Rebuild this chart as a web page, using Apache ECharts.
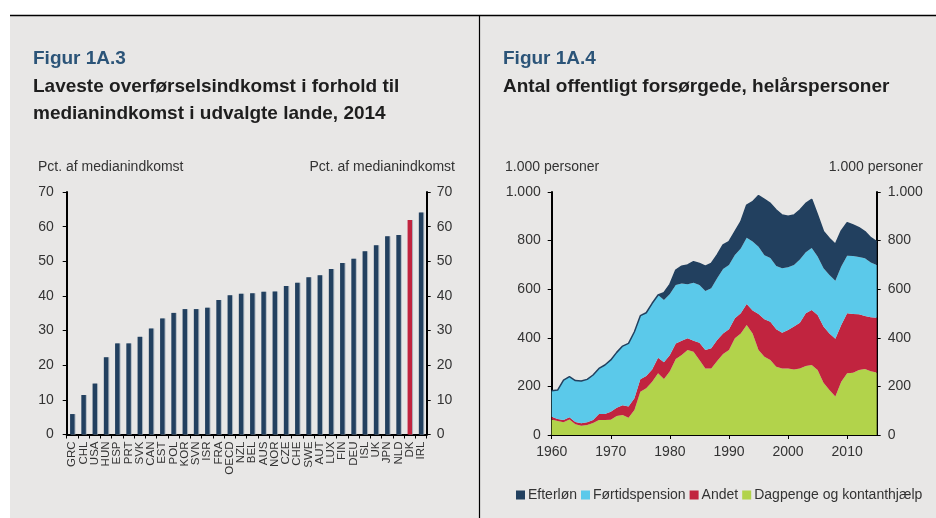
<!DOCTYPE html>
<html><head><meta charset="utf-8">
<script src="https://cdn.jsdelivr.net/npm/echarts@6/dist/echarts.min.js"></script>
<style>html,body{margin:0;padding:0;background:#fff}#c{width:936px;height:518px}</style>
</head><body><div id="c"></div>
<script>
// ---- Figur 1A.3 data ----
const countries = ['GRC','CHL','USA','HUN','ESP','PRT','SVK','CAN','EST','POL','KOR','SVN','ISR','FRA','OECD','NZL','BEL','AUS','NOR','CZE','CHE','SWE','AUT','LUX','FIN','DEU','ISL','UK','JPN','NLD','DK','IRL'];
const incomeShare = [5.9,11.4,14.7,22.3,26.3,26.3,28.2,30.6,33.5,35.1,36.2,36.2,36.6,38.8,40.2,40.6,40.8,41.2,41.3,42.9,43.8,45.4,46.0,47.8,49.5,50.7,52.9,54.6,57.2,57.6,61.9,64.1];
const highlightCountry = 'DK';
const pctTicks = [0,10,20,30,40,50,60,70];

// ---- Figur 1A.4 data (1.000 personer) ----
const years = ['1960','1961','1962','1963','1964','1965','1966','1967','1968','1969','1970','1971','1972','1973','1974','1975','1976','1977','1978','1979','1980','1981','1982','1983','1984','1985','1986','1987','1988','1989','1990','1991','1992','1993','1994','1995','1996','1997','1998','1999','2000','2001','2002','2003','2004','2005','2006','2007','2008','2009','2010','2011','2012','2013','2014','2015'];
const dagpenge = [64,58,52,64,44,38,41,49,62,62,63,78,82,71,103,178,192,219,254,230,262,313,329,350,343,309,274,274,305,333,350,398,418,453,418,350,322,309,281,274,274,270,274,284,288,267,215,185,158,219,254,256,267,272,262,257];
const andet = [11,8,10,9,9,10,11,13,24,24,33,34,40,46,48,51,51,51,64,69,67,64,59,48,45,71,76,83,86,85,85,82,83,86,94,148,154,157,154,147,158,176,188,217,226,227,231,233,238,234,247,242,230,218,223,226];
const foertid = [107,119,164,167,171,174,177,185,188,202,213,228,244,260,274,262,260,272,258,257,251,240,235,222,239,237,243,247,254,265,265,261,267,273,284,277,264,262,260,265,258,254,260,251,256,241,240,240,239,240,237,239,236,237,225,217];
const efterloen = [0,0,0,0,0,0,0,0,0,0,0,0,0,0,0,0,0,0,0,30,40,62,72,80,86,89,102,102,96,99,96,96,110,134,164,210,230,225,231,219,210,205,204,201,200,170,151,151,150,147,136,127,120,110,102,96];
const personTicks = [0,200,400,600,800,1000];

const FONT = "'Liberation Sans', Arial, Helvetica, sans-serif";
const NAVY = '#22405f', LBLUE = '#5bc9ea', RED = '#c1243f', GREEN = '#b2d34b';
const TXT = '#333333';

const chart = echarts.init(document.getElementById('c'), null, {renderer:'canvas'});

function txt(x, y, s, opt) {
  return Object.assign({type:'text', x:x, y:y, silent:true,
    style: Object.assign({text:s, fill:TXT, font:'14px ' + FONT, verticalAlign:'middle', align:'left'}, opt||{})});
}

const yAxisCommon = {
  type:'value', min:0,
  axisLine:{show:true, lineStyle:{color:'#000', width:2}},
  axisTick:{show:true, length:4, lineStyle:{color:'#000', width:1}},
  splitLine:{show:false},
  axisLabel:{color:TXT, fontSize:14, fontFamily:FONT}
};

const option = {
  animation:false,
  backgroundColor:'#ffffff',
  textStyle:{fontFamily:FONT},
  graphic:[
    {type:'rect', shape:{x:10, y:16, width:926, height:502}, style:{fill:'#e8e7e6'}, silent:true, z:-10},
    {type:'line', shape:{x1:10, y1:15.5, x2:936, y2:15.5}, style:{stroke:'#000', lineWidth:1.5}, silent:true, z:-5},
    {type:'line', shape:{x1:479.5, y1:15, x2:479.5, y2:518}, style:{stroke:'#000', lineWidth:1.2}, silent:true, z:-5},
    txt(33, 59, 'Figur 1A.3', {font:'bold 19px ' + FONT, fill:'#2b5478'}),
    txt(33, 87, 'Laveste overførselsindkomst i forhold til', {font:'bold 19px ' + FONT, fill:'#1e1e1e'}),
    txt(33, 114, 'medianindkomst i udvalgte lande, 2014', {font:'bold 19px ' + FONT, fill:'#1e1e1e'}),
    txt(503, 59, 'Figur 1A.4', {font:'bold 19px ' + FONT, fill:'#2b5478'}),
    txt(503, 87, 'Antal offentligt forsørgede, helårspersoner', {font:'bold 19px ' + FONT, fill:'#1e1e1e'}),
    txt(38, 167, 'Pct. af medianindkomst'),
    txt(455, 167, 'Pct. af medianindkomst', {align:'right'}),
    txt(505, 167, '1.000 personer'),
    txt(923, 167, '1.000 personer', {align:'right'})
  ],
  grid:[
    {left:66.7, top:192, width:360, height:242.5, containLabel:false},
    {left:551.7, top:192, width:325, height:243, containLabel:false}
  ],
  legend:{
    data:['Efterløn','Førtidspension','Andet','Dagpenge og kontanthjælp'],
    left:511, top:483, itemWidth:9, itemHeight:9, itemGap:4, icon:'rect',
    textStyle:{color:TXT, fontSize:14, fontFamily:FONT, padding:[0,0,0,-2]},
    selectedMode:false
  },
  xAxis:[
    {type:'category', gridIndex:0, data:countries,
      axisLine:{lineStyle:{color:'#000', width:2}},
      axisTick:{show:true, length:4, lineStyle:{color:'#000'}},
      axisLabel:{rotate:90, interval:0, color:TXT, fontSize:11.5, fontFamily:FONT, margin:7}},
    {type:'category', gridIndex:1, data:years, boundaryGap:false,
      axisLine:{lineStyle:{color:'#000', width:2}},
      axisTick:{show:true, length:4, lineStyle:{color:'#000'}, interval:(i, v) => Number(v) % 10 === 0},
      axisLabel:{color:TXT, fontSize:14, fontFamily:FONT, margin:10, interval:(i, v) => Number(v) % 10 === 0}}
  ],
  yAxis:[
    Object.assign({}, yAxisCommon, {gridIndex:0, position:'left', max:pctTicks[pctTicks.length-1], interval:10,
      axisLabel:Object.assign({}, yAxisCommon.axisLabel, {margin:13})}),
    Object.assign({}, yAxisCommon, {gridIndex:0, position:'right', max:pctTicks[pctTicks.length-1], interval:10,
      axisLabel:Object.assign({}, yAxisCommon.axisLabel, {margin:10})}),
    Object.assign({}, yAxisCommon, {gridIndex:1, position:'left', max:personTicks[personTicks.length-1], interval:200,
      axisLabel:Object.assign({}, yAxisCommon.axisLabel, {margin:11, formatter:v => v >= 1000 ? (v/1000) + '.000' : String(v)})}),
    Object.assign({}, yAxisCommon, {gridIndex:1, position:'right', max:personTicks[personTicks.length-1], interval:200,
      axisLabel:Object.assign({}, yAxisCommon.axisLabel, {margin:11, formatter:v => v >= 1000 ? (v/1000) + '.000' : String(v)})})
  ],
  series:[
    {type:'bar', xAxisIndex:0, yAxisIndex:0, barWidth:4.5,
      data:incomeShare.map((v, i) => countries[i] === highlightCountry ? {value:v, itemStyle:{color:RED}} : v),
      itemStyle:{color:NAVY, shadowColor:'rgba(170,180,190,0.9)', shadowOffsetX:1, shadowBlur:0}},
    {name:'Dagpenge og kontanthjælp', type:'line', xAxisIndex:1, yAxisIndex:2, stack:'p', data:dagpenge,
      showSymbol:false, symbol:'none', lineStyle:{width:0}, areaStyle:{color:GREEN, opacity:1}, itemStyle:{color:GREEN}},
    {name:'Andet', type:'line', xAxisIndex:1, yAxisIndex:2, stack:'p', data:andet,
      showSymbol:false, symbol:'none', lineStyle:{width:0}, areaStyle:{color:RED, opacity:1}, itemStyle:{color:RED}},
    {name:'Førtidspension', type:'line', xAxisIndex:1, yAxisIndex:2, stack:'p', data:foertid,
      showSymbol:false, symbol:'none', lineStyle:{width:0}, areaStyle:{color:LBLUE, opacity:1}, itemStyle:{color:LBLUE}},
    {name:'Efterløn', type:'line', xAxisIndex:1, yAxisIndex:2, stack:'p', data:efterloen,
      showSymbol:false, symbol:'none', lineStyle:{width:1.5, color:NAVY}, areaStyle:{color:NAVY, opacity:1}, itemStyle:{color:NAVY}}
  ]
};
chart.setOption(option);
</script></body></html>
